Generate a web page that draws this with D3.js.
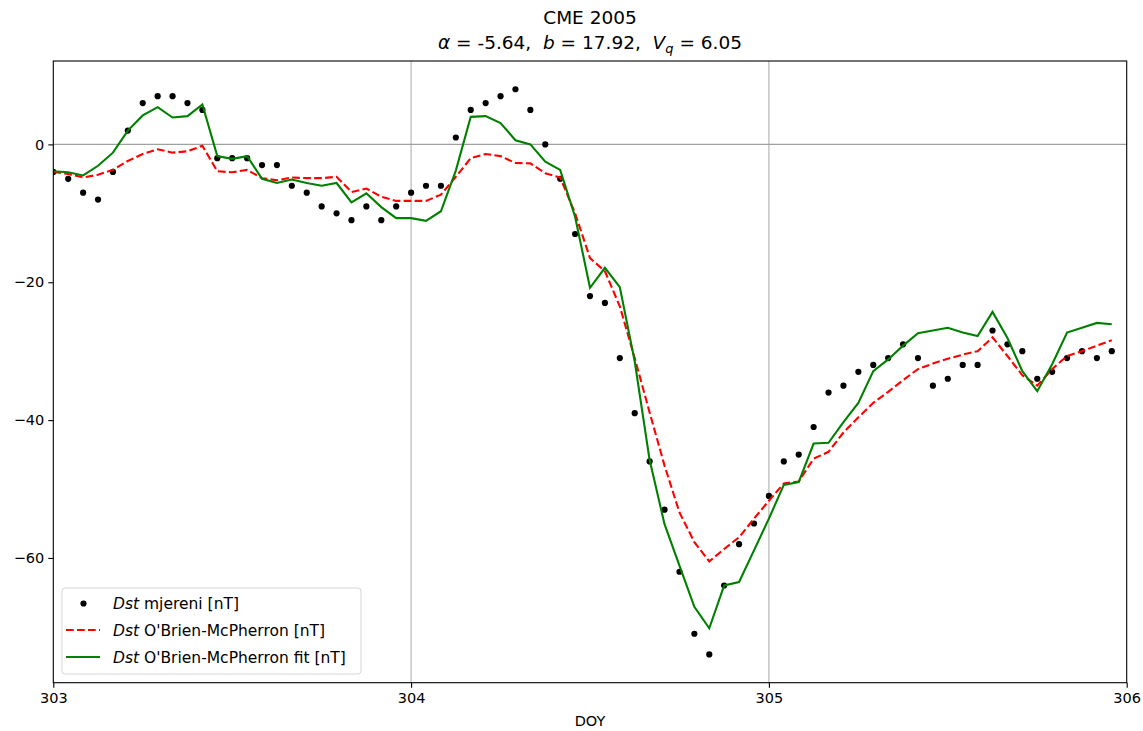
<!DOCTYPE html>
<html><head><meta charset="utf-8">
<script src="https://cdn.jsdelivr.net/npm/d3@7"></script>
<style>body{margin:0;background:#fff}svg{display:block}text{font-family:"DejaVu Sans",sans-serif;fill:#000}</style>
</head><body><svg id="c" width="1143" height="731"></svg>
<script>
// hourly samples starting at DOY 303.0
const startDOY = 303;
const xTicks = [303, 304, 305, 306];
const yTicks = [0, -20, -40, -60];
const dstMeasured = [-4,-5,-7,-8,-4,2,6,7,7,6,5,-2,-2,-2,-3,-3,-6,-7,-9,-10,-11,-9,-11,-9,
  -7,-6,-6,1,5,6,7,8,5,0,-5,-13,-22,-23,-31,-39,-46,-53,-62,-71,-74,-64,-58,-55,
  -51,-46,-45,-41,-36,-35,-33,-32,-31,-29,-31,-35,-34,-32,-32,-27,-29,-30,-34,-33,-31,-30,-31,-30];
const dstOBM = [-4.0,-4.3,-4.8,-4.4,-3.7,-2.4,-1.4,-0.7,-1.2,-1.0,-0.2,-3.9,-4.05,-3.7,-4.9,-5.2,-4.8,-4.9,-4.9,-4.7,-6.9,-6.4,-7.6,-8.2,
  -8.2,-8.2,-7.3,-4.7,-2.0,-1.4,-1.7,-2.7,-2.75,-4.2,-4.8,-10.0,-16.5,-18.4,-23.5,-31.0,-38.9,-46.6,-53.4,-57.7,-60.5,-58.7,-57.0,-54.3,
  -51.7,-49.2,-48.9,-45.6,-44.6,-41.8,-39.6,-37.5,-35.9,-34.2,-32.6,-31.8,-31.1,-30.5,-30.0,-28.0,-30.7,-33.5,-35.0,-32.6,-30.7,-30.0,-29.2,-28.4];
const dstFit = [-3.9,-4.05,-4.5,-3.1,-1.2,2.0,4.2,5.4,3.9,4.1,5.8,-1.7,-2.1,-1.7,-5.0,-5.6,-5.1,-5.6,-6.0,-5.6,-8.4,-7.1,-9.1,-10.7,
  -10.7,-11.1,-9.7,-3.8,4.0,4.1,3.1,0.6,0.0,-2.5,-3.7,-10.5,-20.8,-17.9,-20.7,-31.5,-45.8,-55.1,-61.1,-67.1,-70.2,-64.0,-63.5,-58.9,
  -54.3,-49.4,-49.0,-43.4,-43.3,-40.3,-37.5,-32.9,-31.2,-29.2,-27.4,-27.0,-26.6,-27.3,-27.8,-24.3,-28.1,-32.9,-35.8,-31.9,-27.3,-26.6,-25.9,-26.1];
const legendLabels = ["mjereni [nT]", "O'Brien-McPherron [nT]", "O'Brien-McPherron fit [nT]"];

const svg = d3.select("#c");
const L = 53.3, R = 1126.7, T = 61, B = 682.7;
const x = d3.scaleLinear().domain([303, 306]).range([L, R]);
const y = d3.scaleLinear().domain([-78.1, 12.1]).range([B, T]);
const doy = i => startDOY + i / 24;

// grid / reference lines
svg.append("g").selectAll("line").data([304, 305]).join("line")
  .attr("x1", d => x(d)).attr("x2", d => x(d)).attr("y1", T).attr("y2", B)
  .attr("stroke", "#b0b0b0").attr("stroke-width", 1.1);
svg.append("line").attr("x1", L).attr("x2", R).attr("y1", y(0)).attr("y2", y(0))
  .attr("stroke", "#a0a0a0").attr("stroke-width", 1.1);

const clip = svg.append("clipPath").attr("id", "pc").append("rect")
  .attr("x", L).attr("y", T).attr("width", R - L).attr("height", B - T);
const plot = svg.append("g").attr("clip-path", "url(#pc)");

plot.append("g").selectAll("circle").data(dstMeasured).join("circle")
  .attr("cx", (d, i) => x(doy(i))).attr("cy", d => y(d)).attr("r", 3.1).attr("fill", "#000");

const line = d3.line().x((d, i) => x(doy(i))).y(d => y(d));
plot.append("path").datum(dstOBM).attr("d", line).attr("fill", "none")
  .attr("stroke", "#ff0000").attr("stroke-width", 2.1).attr("stroke-dasharray", "7.7,3.3");
plot.append("path").datum(dstFit).attr("d", line).attr("fill", "none")
  .attr("stroke", "#008000").attr("stroke-width", 2.1).attr("stroke-linejoin", "miter");

// axes
const xAxis = d3.axisBottom(x).tickValues(xTicks).tickFormat(d3.format("d")).tickSize(5).tickPadding(5);
const gx = svg.append("g").attr("transform", `translate(0,${B})`).call(xAxis);
const yAxis = d3.axisLeft(y).tickValues(yTicks).tickFormat(d => d < 0 ? "\u2212" + Math.abs(d) : String(d)).tickSize(5).tickPadding(4);
const gy = svg.append("g").attr("transform", `translate(${L},0)`).call(yAxis);
[gx, gy].forEach(g => {
  g.select(".domain").remove();
  g.selectAll(".tick line").attr("stroke", "#000").attr("stroke-width", 1.1);
  g.selectAll(".tick text").attr("font-size", 14.5).attr("font-family", "DejaVu Sans").attr("fill", "#000");
});
svg.append("rect").attr("x", L).attr("y", T).attr("width", R - L).attr("height", B - T)
  .attr("fill", "none").attr("stroke", "#000").attr("stroke-width", 1.1);

// labels
svg.append("text").attr("x", (L + R) / 2).attr("y", 726).attr("text-anchor", "middle").attr("font-size", 14.5).text("DOY");
svg.append("text").attr("x", (L + R) / 2).attr("y", 24).attr("text-anchor", "middle").attr("font-size", 18.5).text("CME 2005");
const t2 = svg.append("text").attr("x", (L + R) / 2).attr("y", 49).attr("text-anchor", "middle").attr("font-size", 18.5);
t2.append("tspan").attr("font-style", "italic").text("\u03b1");
t2.append("tspan").text(" = -5.64,\u00a0\u00a0");
t2.append("tspan").attr("font-style", "italic").text("b");
t2.append("tspan").text(" = 17.92,\u00a0\u00a0");
t2.append("tspan").attr("font-style", "italic").text("V");
t2.append("tspan").attr("font-style", "italic").attr("font-size", 13).attr("dy", 4).text("q");
t2.append("tspan").attr("dy", -4).text(" = 6.05");

// legend
const lg = svg.append("g");
lg.append("rect").attr("x", 62).attr("y", 588).attr("width", 299).attr("height", 86).attr("rx", 3)
  .attr("fill", "#fff").attr("fill-opacity", 0.8).attr("stroke", "#d6d6d6").attr("stroke-width", 1);
const rows = [603.5, 630, 657];
lg.append("circle").attr("cx", 83.5).attr("cy", rows[0]).attr("r", 3.1).attr("fill", "#000");
lg.append("line").attr("x1", 66).attr("x2", 100).attr("y1", rows[1]).attr("y2", rows[1])
  .attr("stroke", "#ff0000").attr("stroke-width", 2.1).attr("stroke-dasharray", "7.7,3.3");
lg.append("line").attr("x1", 66).attr("x2", 100).attr("y1", rows[2]).attr("y2", rows[2])
  .attr("stroke", "#008000").attr("stroke-width", 2.1);
legendLabels.forEach((lab, i) => {
  const t = lg.append("text").attr("x", 113).attr("y", rows[i] + 5.5).attr("font-size", 15.5);
  t.append("tspan").attr("font-style", "italic").text("Dst");
  t.append("tspan").text(" " + lab);
});
</script></body></html>
